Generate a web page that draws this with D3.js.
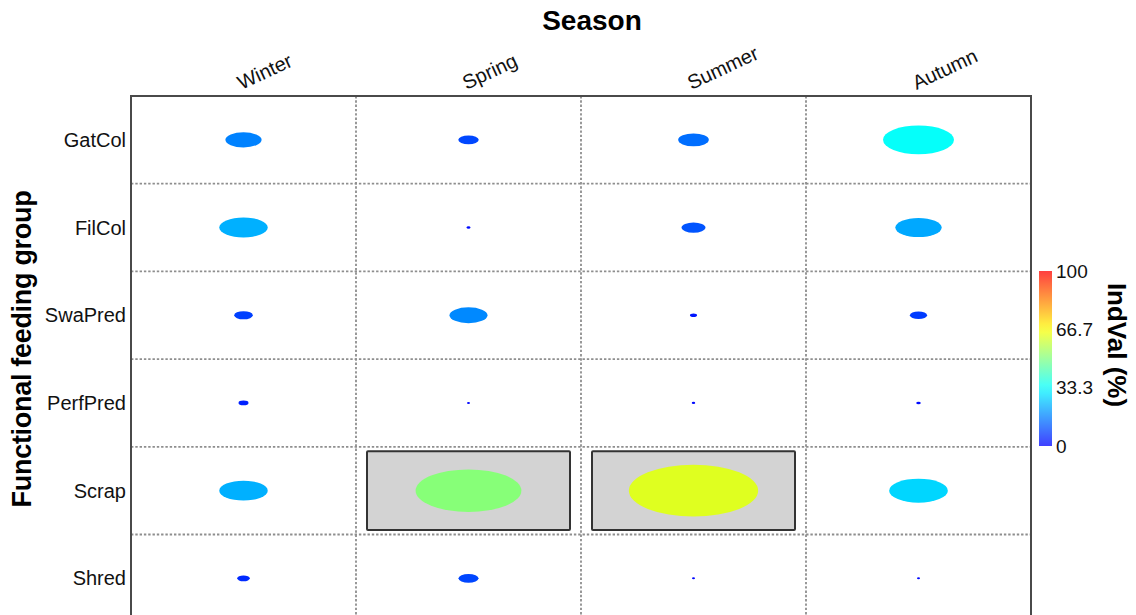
<!DOCTYPE html>
<html>
<head>
<meta charset="utf-8">
<script src="https://cdn.jsdelivr.net/npm/d3@7"></script>
<style>
  html, body { margin: 0; padding: 0; background: #fff; }
  svg { display: block; font-family: Arial, "Liberation Sans", sans-serif; }
</style>
</head>
<body>
<svg id="chart" width="1136" height="615"></svg>
<script>
// Functional feeding groups (rows) and seasons (columns)
const groups = ["GatCol", "FilCol", "SwaPred", "PerfPred", "Scrap", "Shred"];
const seasons = ["Winter", "Spring", "Summer", "Autumn"];

// IndVal (%) per season, in the order of `groups`
const winter = [17, 23, 8.4, 4.2, 23, 5.5];
const spring = [9.3, 1.2, 17.9, 0.8, 51, 9.1];
const summer = [14.3, 11, 2.8, 1, 62.5, 0.8];
const autumn = [34, 22, 7.7, 1.5, 28, 0.8];

// Significant indicator cells (highlighted with a grey box)
const significant = [["Scrap", "Spring"], ["Scrap", "Summer"]];

// Colour bar ticks
const legendTicks = [0, 33.3, 66.7, 100];
const legendTickLabels = ["0", "33.3", "66.7", "100"];

const bySeason = { Winter: winter, Spring: spring, Summer: summer, Autumn: autumn };
const cells = [];
seasons.forEach(s => groups.forEach((g, i) => cells.push({ season: s, group: g, value: bySeason[s][i] })));

const svg = d3.select("#chart");

const plotLeft = 131, plotRight = 1031, plotTop = 96, rowH = 87.7;
const x = d3.scaleBand().domain(seasons).range([plotLeft, plotRight]);
const y = d3.scaleBand().domain(groups).range([plotTop, plotTop + rowH * groups.length]);

const color = d3.scaleLinear()
  .domain([0, 33.3, 66.7, 100])
  .range(["#0000ff", "#00ffff", "#ffff00", "#ff0000"]);
const rx = d3.scaleLinear().domain([0, 100]).range([0.7, 103]);
const ry = d3.scaleLinear().domain([0, 100]).range([0.7, 41]);

// Grid: dotted separators between cells
const grid = svg.append("g")
  .attr("stroke", "#8e8e8e").attr("stroke-width", 1.8).attr("stroke-dasharray", "2.4,1.9");
seasons.slice(1).forEach(s => {
  grid.append("line").attr("x1", x(s)).attr("x2", x(s)).attr("y1", plotTop).attr("y2", 615);
});
groups.slice(1).forEach(g => {
  grid.append("line").attr("x1", plotLeft).attr("x2", plotRight).attr("y1", y(g)).attr("y2", y(g));
});

// Plot frame
svg.append("path")
  .attr("d", `M${plotLeft},615V${plotTop}H${plotRight}V615`)
  .attr("fill", "none").attr("stroke", "#4a4a4a").attr("stroke-width", 2);

// Highlight boxes for significant cells
svg.append("g").selectAll("rect")
  .data(significant)
  .join("rect")
  .attr("x", d => x(d[1]) + 11)
  .attr("y", d => y(d[0]) + 4.5)
  .attr("width", x.bandwidth() - 22)
  .attr("height", y.bandwidth() - 9)
  .attr("rx", 1)
  .attr("fill", "#d3d3d3")
  .attr("stroke", "#333")
  .attr("stroke-width", 2);

// Ellipses sized and coloured by IndVal
svg.append("g").selectAll("ellipse")
  .data(cells)
  .join("ellipse")
  .attr("cx", d => x(d.season) + x.bandwidth() / 2)
  .attr("cy", d => y(d.group) + y.bandwidth() / 2)
  .attr("rx", d => rx(d.value))
  .attr("ry", d => ry(d.value))
  .attr("fill", d => color(d.value));

// Row labels
svg.append("g").selectAll("text")
  .data(groups)
  .join("text")
  .attr("x", 126)
  .attr("y", d => y(d) + y.bandwidth() / 2)
  .attr("dy", "0.35em")
  .attr("text-anchor", "end")
  .attr("font-size", 20)
  .attr("fill", "#111")
  .text(d => d);

// Column labels (tilted)
svg.append("g").selectAll("text")
  .data(seasons)
  .join("text")
  .attr("transform", d => `translate(${x(d) + x.bandwidth() / 2 - 2},90) rotate(-25)`)
  .attr("font-size", 20)
  .attr("fill", "#111")
  .text(d => d);

// Titles
svg.append("text")
  .attr("x", 592).attr("y", 30)
  .attr("text-anchor", "middle")
  .attr("font-size", 28).attr("font-weight", "bold")
  .text("Season");

svg.append("text")
  .attr("transform", "translate(31,349) rotate(-90)")
  .attr("text-anchor", "middle")
  .attr("font-size", 27).attr("font-weight", "bold")
  .attr("letter-spacing", -0.3)
  .text("Functional feeding group");

// Colour bar
const ly = d3.scaleLinear().domain([0, 100]).range([446, 271]);
const defs = svg.append("defs");
const grad = defs.append("linearGradient")
  .attr("id", "indval-grad").attr("x1", 0).attr("x2", 0).attr("y1", 1).attr("y2", 0);
d3.range(0, 101, 5).forEach(v => {
  grad.append("stop").attr("offset", v / 100).attr("stop-color", color(v));
});
svg.append("rect")
  .attr("x", 1039).attr("y", ly(100))
  .attr("width", 13).attr("height", ly(0) - ly(100))
  .attr("fill", "url(#indval-grad)")
  .attr("opacity", 0.75);

const axis = d3.axisRight(ly)
  .tickValues(legendTicks)
  .tickFormat((d, i) => legendTickLabels[i])
  .tickSize(0)
  .tickPadding(4);
const axG = svg.append("g").attr("transform", "translate(1052,0)").call(axis);
axG.select(".domain").remove();
axG.selectAll("text")
  .attr("font-size", 19)
  .attr("font-family", "Arial, 'Liberation Sans', sans-serif")
  .attr("fill", "#111");

svg.append("text")
  .attr("transform", "translate(1108,345) rotate(90)")
  .attr("text-anchor", "middle")
  .attr("font-size", 26).attr("font-weight", "bold")
  .text("IndVal (%)");
</script>
</body>
</html>
